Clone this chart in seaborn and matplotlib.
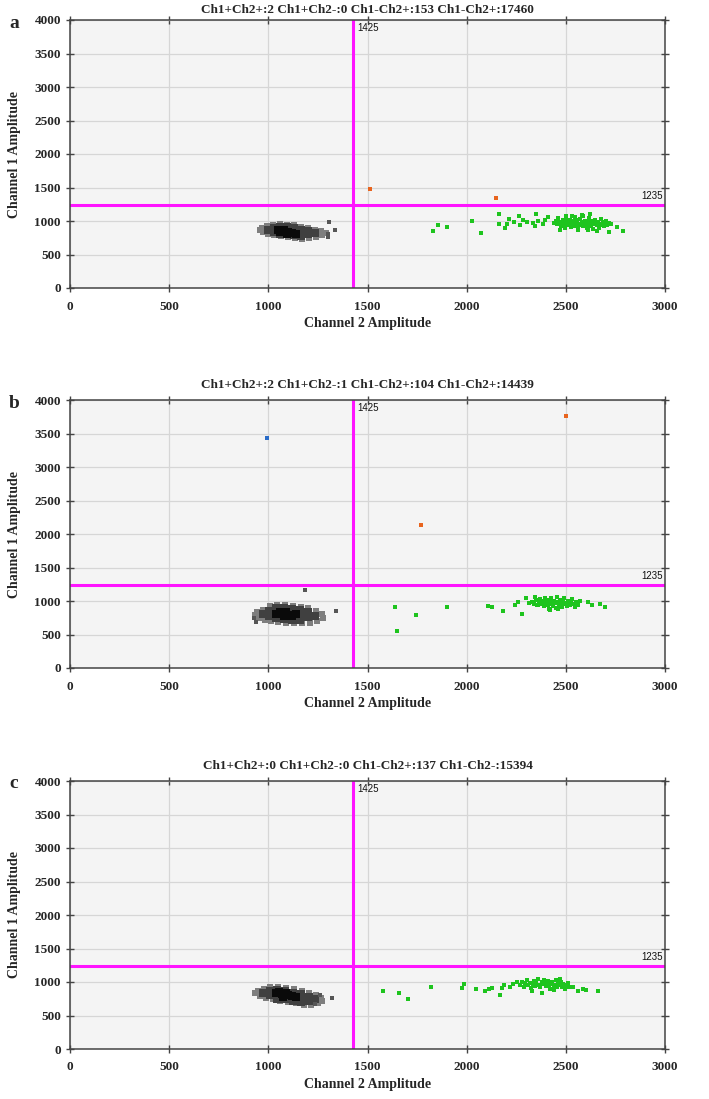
import matplotlib
matplotlib.use('Agg')
import matplotlib.pyplot as plt
import seaborn as sns
import pandas as pd

sns.set_theme(style='ticks')
plt.rcParams['font.family'] = ['Liberation Serif', 'DejaVu Serif']

# ---------------- data ----------------
x_ticks = [0, 500, 1000, 1500, 2000, 2500, 3000]
y_ticks = [0, 500, 1000, 1500, 2000, 2500, 3000, 3500, 4000]
thresh_ch2 = 1425
thresh_ch1 = 1235
titles = ["Ch1+Ch2+:2 Ch1+Ch2-:0 Ch1-Ch2+:153 Ch1-Ch2+:17460",
          "Ch1+Ch2+:2 Ch1+Ch2-:1 Ch1-Ch2+:104 Ch1-Ch2+:14439",
          "Ch1+Ch2+:0 Ch1+Ch2-:0 Ch1-Ch2+:137 Ch1-Ch2-:15394"]
letters = ["a", "b", "c"]

# negative droplet cloud (shade: 0 = edge, 1 = body, 2 = core)
a_neg_x = [960, 970, 975, 995, 1000, 1025, 1030, 1060, 1065, 1095, 1100, 1130, 1135, 1165, 1170, 1200, 1205, 1235, 1240, 1265, 1270, 1290,
           1000, 1030, 1030, 1060, 1060, 1060, 1095, 1095, 1095, 1130, 1130, 1130, 1165, 1165, 1165, 1200, 1200, 1235,
           1050, 1075, 1100, 1080, 1120, 1060, 1140, 1095]
a_neg_y = [870, 900, 835, 925, 810, 945, 790, 950, 770, 945, 755, 935, 740, 915, 735, 895, 745, 870, 760, 845, 790, 820,
           870, 900, 840, 915, 860, 810, 905, 850, 800, 895, 840, 785, 870, 820, 775, 850, 800, 820,
           860, 840, 830, 870, 815, 830, 810, 800]
a_neg_shade = [0] * 22 + [1] * 18 + [2] * 8
a_stray_x = [1306, 1336, 1300, 1300]
a_stray_y = [980, 865, 800, 760]
a_pos_x = [1832, 1857, 1900, 2029, 2073, 2162, 2162, 2194, 2202, 2215, 2240, 2264, 2269, 2286, 2303, 2336, 2350, 2345, 2361, 2387,
           2395, 2408, 2438, 2450, 2455, 2462, 2470, 2478, 2485, 2490, 2495, 2500, 2505, 2510, 2515, 2520, 2525, 2530, 2535,
           2540, 2545, 2548, 2552, 2558, 2562, 2565, 2570, 2575, 2580, 2585, 2588, 2592, 2597, 2600, 2605, 2610, 2615, 2620,
           2625, 2630, 2635, 2640, 2645, 2650, 2655, 2660, 2665, 2670, 2675, 2680, 2685, 2690, 2700, 2705, 2710, 2720, 2730,
           2500, 2470, 2560, 2610, 2530, 2580, 2620, 2657, 2716, 2759, 2787]
a_pos_y = [855, 940, 915, 1000, 825, 1100, 950, 890, 960, 1025, 990, 1075, 945, 1020, 985, 975, 1100, 930, 995, 950,
           1010, 1065, 975, 1000, 950, 1040, 980, 920, 1010, 960, 900, 1050, 990, 940, 970, 1020, 910, 960, 1000,
           930, 1060, 980, 950, 1010, 890, 960, 1030, 940, 990, 920, 1070, 970, 1000, 945, 900, 985, 1040, 960,
           925, 1000, 880, 955, 1020, 970, 935, 990, 900, 960, 1030, 940, 980, 920, 960, 1000, 935, 975, 950,
           1080, 870, 860, 870, 1075, 1090, 1110, 850, 840, 915, 855]
a_dbl_x = [1513, 2148]
a_dbl_y = [1478, 1348]
a_ch1_x = []
a_ch1_y = []

b_neg_x = [935, 945, 955, 975, 985, 1010, 1015, 1045, 1050, 1085, 1090, 1125, 1130, 1165, 1170, 1200, 1210, 1240, 1245, 1270, 1275,
           975, 1005, 1005, 1040, 1040, 1040, 1080, 1080, 1080, 1120, 1120, 1120, 1160, 1160, 1160, 1200, 1200, 1235,
           1040, 1070, 1100, 1080, 1120, 1060, 1140, 1090]
b_neg_y = [790, 830, 750, 870, 720, 925, 700, 940, 680, 935, 665, 925, 665, 910, 665, 890, 675, 850, 700, 800, 745,
           800, 850, 770, 890, 820, 740, 890, 820, 730, 880, 810, 720, 860, 790, 720, 830, 760, 780,
           800, 810, 790, 770, 780, 840, 800, 830]
b_neg_shade = [0] * 21 + [1] * 18 + [2] * 8
b_stray_x = [1185, 1340, 929, 940]
b_stray_y = [1160, 855, 740, 680]
b_pos_x = [1641, 1647, 1745, 1903, 2110, 2127, 2185, 2244, 2257, 2281, 2300, 2312, 2345, 2353,
           2330, 2340, 2350, 2358, 2365, 2372, 2380, 2385, 2392, 2398, 2405, 2410, 2415, 2420, 2425, 2430, 2435, 2440,
           2445, 2450, 2455, 2460, 2465, 2470, 2475, 2480, 2485, 2490, 2495, 2500, 2505, 2510, 2515, 2520, 2525, 2530,
           2540, 2545, 2550, 2560, 2570, 2420, 2460, 2395, 2614, 2630, 2672, 2697]
b_pos_y = [905, 552, 790, 915, 925, 915, 855, 940, 990, 805, 1040, 965, 1055, 940,
           990, 960, 1010, 940, 980, 1030, 950, 995, 920, 970, 1010, 945, 880, 985, 1040, 955, 925, 1000,
           965, 900, 1060, 980, 940, 1010, 960, 915, 990, 1045, 950, 975, 920, 1000, 960, 935, 990, 1030,
           955, 910, 980, 945, 1000, 860, 880, 1050, 990, 940, 955, 905]
b_dbl_x = [1770, 2500]
b_dbl_y = [2130, 3766]
b_ch1_x = [992]
b_ch1_y = [3437]

c_neg_x = [935, 950, 960, 980, 990, 1010, 1025, 1050, 1060, 1090, 1100, 1130, 1140, 1170, 1180, 1205, 1215, 1240, 1250, 1270, 1265,
           975, 1010, 1010, 1045, 1045, 1045, 1085, 1085, 1085, 1125, 1125, 1125, 1165, 1165, 1165, 1205, 1205, 1235,
           1040, 1070, 1100, 1075, 1120, 1055, 1140, 1090]
c_neg_y = [830, 870, 790, 900, 760, 920, 740, 920, 720, 905, 700, 890, 680, 870, 660, 840, 650, 800, 680, 720, 760,
           840, 870, 800, 880, 810, 750, 860, 800, 740, 840, 780, 720, 820, 760, 700, 780, 720, 740,
           830, 820, 800, 780, 790, 850, 770, 830]
c_neg_shade = [0] * 21 + [1] * 18 + [2] * 8
c_stray_x = [1261, 1320, 1235]
c_stray_y = [800, 765, 676]
c_pos_x = [1580, 1659, 1706, 1820, 1975, 1986, 2045, 2092, 2114, 2126, 2168, 2176, 2190, 2218, 2235, 2252,
           2270, 2280, 2288, 2295, 2302, 2310, 2318, 2325, 2332, 2340, 2345, 2352, 2360, 2365, 2372, 2378, 2385, 2390,
           2398, 2405, 2410, 2415, 2420, 2425, 2432, 2438, 2445, 2450, 2455, 2460, 2468, 2475, 2480, 2488, 2495, 2500,
           2510, 2515, 2380, 2330, 2440, 2470, 2537, 2562, 2588, 2604, 2663]
c_pos_y = [860, 840, 740, 924, 915, 965, 900, 870, 890, 910, 800, 915, 950, 925, 975, 1000,
           960, 1000, 930, 980, 1030, 950, 990, 910, 970, 1010, 940, 985, 1040, 955, 920, 1000, 965, 1030,
           940, 985, 1015, 950, 900, 975, 1000, 940, 960, 1025, 920, 985, 950, 1005, 930, 970, 900, 950,
           985, 930, 840, 860, 880, 1050, 925, 870, 900, 880, 865]
c_dbl_x = []
c_dbl_y = []
c_ch1_x = []
c_ch1_y = []

panels = [
    (a_neg_x, a_neg_y, a_neg_shade, a_stray_x, a_stray_y, a_pos_x, a_pos_y, a_dbl_x, a_dbl_y, a_ch1_x, a_ch1_y),
    (b_neg_x, b_neg_y, b_neg_shade, b_stray_x, b_stray_y, b_pos_x, b_pos_y, b_dbl_x, b_dbl_y, b_ch1_x, b_ch1_y),
    (c_neg_x, c_neg_y, c_neg_shade, c_stray_x, c_stray_y, c_pos_x, c_pos_y, c_dbl_x, c_dbl_y, c_ch1_x, c_ch1_y),
]

# ---------------- styling ----------------
W, H = 709, 1099
fig = plt.figure(figsize=(W / 100, H / 100), dpi=100)
ax_left, ax_right = 70, 665
ax_tops = [20, 400, 781]
title_pads = [4.8, 8.4, 8.4]
ax_h = 268

shade_colors = {0: '#7e7e7e', 1: '#404040', 2: '#0a0a0a'}
shade_sizes = {0: 16, 1: 30, 2: 32}
shade_markers = {0: 's', 1: 's', 2: 's'}


def scat(ax, xs, ys, color, size, marker='s'):
    if len(xs) == 0:
        return
    df = pd.DataFrame({'x': xs, 'y': ys})
    sns.scatterplot(data=df, x='x', y='y', ax=ax, marker=marker, s=size,
                    color=color, linewidth=0, legend=False)


for i, (nx, ny, ns, sx, sy, px, py, dx, dy, cx, cy) in enumerate(panels):
    top = ax_tops[i]
    ax = fig.add_axes([ax_left / W, 1 - (top + ax_h) / H,
                       (ax_right - ax_left) / W, ax_h / H])
    ax.set_facecolor('#f4f4f4')
    ax.set_xlim(0, 3000)
    ax.set_ylim(0, 4000)
    ax.set_xticks(x_ticks)
    ax.set_yticks(y_ticks)
    ax.grid(True, color='#d6d6d6', linewidth=0.9)
    ax.set_axisbelow(True)

    neg = pd.DataFrame({'x': nx, 'y': ny, 's': ns})
    for level in (0, 1, 2):
        sub = neg[neg['s'] == level]
        scat(ax, list(sub['x']), list(sub['y']), shade_colors[level],
             shade_sizes[level], shade_markers[level])
    scat(ax, sx, sy, '#555555', 5)
    scat(ax, px, py, '#1ec41e', 5)
    scat(ax, dx, dy, '#e8641e', 5.5)
    scat(ax, cx, cy, '#2a6cc8', 5.5)

    ax.axvline(thresh_ch2, color='#ff14ff', linewidth=2.2, zorder=1.5)
    ax.axhline(thresh_ch1, color='#ff14ff', linewidth=2.2, zorder=1.5)
    ax.text(thresh_ch2 + 25, 3880, str(thresh_ch2), fontsize=7,
            family=['Liberation Sans', 'DejaVu Sans'], ha='left', va='center', color='#111111')
    ax.text(2990, thresh_ch1 + 60, str(thresh_ch1), fontsize=7,
            family=['Liberation Sans', 'DejaVu Sans'], ha='right', va='bottom', color='#111111')

    for side in ('left', 'bottom', 'top', 'right'):
        ax.spines[side].set_visible(True)
        ax.spines[side].set_color('#444444')
        ax.spines[side].set_linewidth(1.1)
    ax.tick_params(axis='both', direction='inout', length=6, width=1, color='#444444',
                   top=True, right=True, labelsize=9.5)
    ax.tick_params(axis='x', pad=6)
    ax.tick_params(axis='y', pad=3.5)
    for lab in ax.get_xticklabels() + ax.get_yticklabels():
        lab.set_fontweight('bold')
    ax.set_xlabel('Channel 2 Amplitude', fontsize=10, fontweight='bold', labelpad=3)
    ax.set_ylabel('Channel 1 Amplitude', fontsize=10, fontweight='bold', labelpad=10)
    ax.set_title(titles[i], fontsize=9.5, fontweight='bold', pad=title_pads[i])
    fig.text(14 / W, 1 - (top + 3) / H, letters[i], fontsize=14, fontweight='bold',
             ha='center', va='center')

fig.savefig('out.png', dpi=100)
